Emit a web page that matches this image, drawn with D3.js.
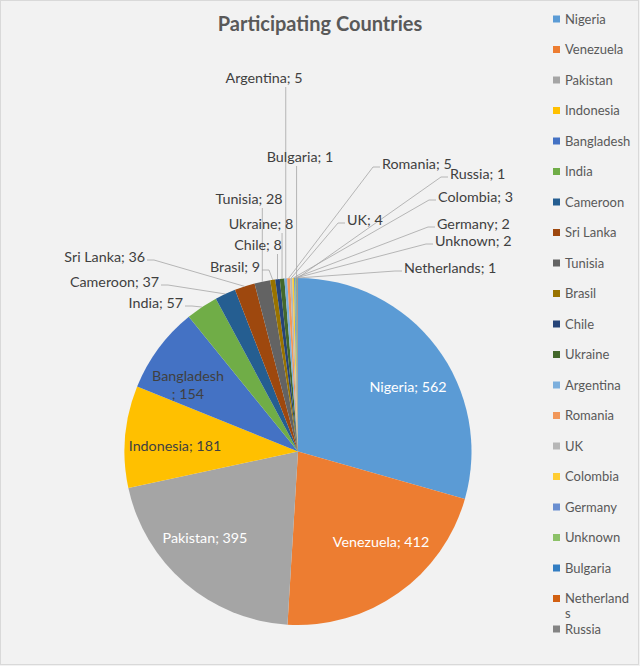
<!DOCTYPE html>
<html>
<head>
<meta charset="utf-8">
<script src="https://cdn.jsdelivr.net/npm/d3@7"></script>
<style>
  html, body { margin: 0; padding: 0; background: #F2F2F2; }
  svg { display: block; }
  text { font-family: Lato, "Open Sans", sans-serif; }
</style>
</head>
<body>
<svg id="chart" width="640" height="666"></svg>
<script>
// ---- data ----
const countries = ["Nigeria", "Venezuela", "Pakistan", "Indonesia", "Bangladesh", "India", "Cameroon", "Sri Lanka", "Tunisia", "Brasil", "Chile", "Ukraine", "Argentina", "Romania", "UK", "Colombia", "Germany", "Unknown", "Bulgaria", "Netherlands", "Russia"];
const participants = [562, 412, 395, 181, 154, 57, 37, 36, 28, 9, 8, 8, 5, 5, 4, 3, 2, 2, 1, 1, 1];
const sliceColors = ["#5B9BD5", "#ED7D31", "#A5A5A5", "#FFC000", "#4472C4", "#70AD47", "#255E91", "#9E480E", "#636363", "#997300", "#264478", "#43682B", "#7CAFDD", "#F1975A", "#B7B7B7", "#FFCD33", "#698ED0", "#8CC168", "#327DC2", "#D26012", "#848484"];
const title = "Participating Countries";

// ---- layout (label placement) ----
const cx = 298, cy = 451.5, R = 173.5;
const insideLabels = {
  "Nigeria": {x: 408, y: 387, fill: "#FFFFFF"},
  "Venezuela": {x: 381, y: 542, fill: "#FFFFFF"},
  "Pakistan": {x: 205, y: 538, fill: "#FFFFFF"},
  "Indonesia": {x: 175, y: 446, fill: "#404040"},
  "Bangladesh": {x: 188, y: 376, fill: "#404040", wrap: true}
};
const outsideLabels = {
  "Romania": {t: "l", x: 382, y: 164},
  "Russia": {t: "l", x: 450, y: 174},
  "Colombia": {t: "l", x: 438, y: 197},
  "UK": {t: "l", x: 347, y: 220},
  "Germany": {t: "l", x: 437, y: 224},
  "Unknown": {t: "l", x: 435, y: 241},
  "Netherlands": {t: "l", x: 404, y: 268},
  "India": {t: "r", x: 183, y: 303},
  "Cameroon": {t: "r", x: 159, y: 282},
  "Sri Lanka": {t: "r", x: 145, y: 257},
  "Brasil": {t: "r", x: 260, y: 267},
  "Argentina": {t: "b", x: 264, y: 78},
  "Bulgaria": {t: "b", x: 300, y: 157},
  "Tunisia": {t: "b", x: 249, y: 199},
  "Ukraine": {t: "b", x: 261, y: 224},
  "Chile": {t: "b", x: 258, y: 245}
};

const svg = d3.select("#chart");
svg.append("rect").attr("x", 0.5).attr("y", 0.5).attr("width", 638).attr("height", 664)
  .attr("fill", "#F2F2F2").attr("stroke", "#D9D9D9").attr("stroke-width", 1);

svg.append("text").attr("x", 320).attr("y", 24).attr("dy", "0.35em")
  .attr("text-anchor", "middle").attr("font-size", 20).attr("font-weight", "bold")
  .attr("fill", "#595959").text(title);

const data = countries.map((c, i) => ({name: c, value: participants[i], color: sliceColors[i]}));
const pie = d3.pie().value(d => d.value).sort(null);
const arcs = pie(data);
const arc = d3.arc().innerRadius(0).outerRadius(R);

const g = svg.append("g").attr("transform", `translate(${cx},${cy})`);
g.selectAll("path").data(arcs).join("path")
  .attr("d", arc).attr("fill", d => d.data.color);

const leadG = svg.append("g");
const labG = svg.append("g").attr("font-size", 14.3).attr("fill", "#404040");
arcs.forEach(a => {
  const name = a.data.name;
  const txt = `${name}; ${a.data.value}`;
  const mid = (a.startAngle + a.endAngle) / 2;
  const px = cx + R * Math.sin(mid), py = cy - R * Math.cos(mid);
  if (insideLabels[name]) {
    const L = insideLabels[name];
    if (L.wrap) {
      const t = svg.append("text").attr("text-anchor", "middle").attr("font-size", 14.3).attr("fill", L.fill);
      t.append("tspan").attr("x", L.x).attr("y", L.y).attr("dy", "0.35em").text(name);
      t.append("tspan").attr("x", L.x).attr("y", L.y + 18).attr("dy", "0.35em").text(`; ${a.data.value}`);
    } else {
      svg.append("text").attr("x", L.x).attr("y", L.y).attr("dy", "0.35em")
        .attr("text-anchor", "middle").attr("font-size", 14.3).attr("fill", L.fill).text(txt);
    }
    return;
  }
  const L = outsideLabels[name];
  if (!L) return;
  labG.append("text").attr("x", L.x).attr("y", L.y).attr("dy", "0.35em")
    .attr("text-anchor", L.t === "l" ? "start" : L.t === "r" ? "end" : "middle").text(txt);
  let pts;
  if (L.t === "l") {
    const sx = L.x - 2, sy = L.y + 3;
    pts = [[sx, sy], [sx - 7, sy], [px, py]];
  } else if (L.t === "r") {
    const sx = L.x + 2, sy = L.y + 3;
    pts = [[sx, sy], [sx + 7, sy], [px, py]];
  } else {
    pts = [[px, L.y + 9], [px, py]];
  }
  leadG.append("path").attr("d", d3.line()(pts))
    .attr("fill", "none").attr("stroke", "#A6A6A6").attr("stroke-width", 0.8);
});

// legend
const lg = svg.append("g").attr("font-size", 13).attr("fill", "#595959");
data.forEach((d, i) => {
  const y = 19 + i * 30.5;
  lg.append("rect").attr("x", 553).attr("y", y - 3.5).attr("width", 7).attr("height", 7).attr("fill", d.color);
  if (d.name === "Netherlands") {
    const t = lg.append("text").attr("x", 565).attr("y", y).attr("dy", "0.35em");
    t.append("tspan").attr("x", 565).attr("y", y).attr("dy", "0.35em").text("Netherland");
    t.append("tspan").attr("x", 565).attr("y", y + 15).attr("dy", "0.35em").text("s");
  } else {
    lg.append("text").attr("x", 565).attr("y", y).attr("dy", "0.35em").text(d.name);
  }
});
</script>
</body>
</html>
